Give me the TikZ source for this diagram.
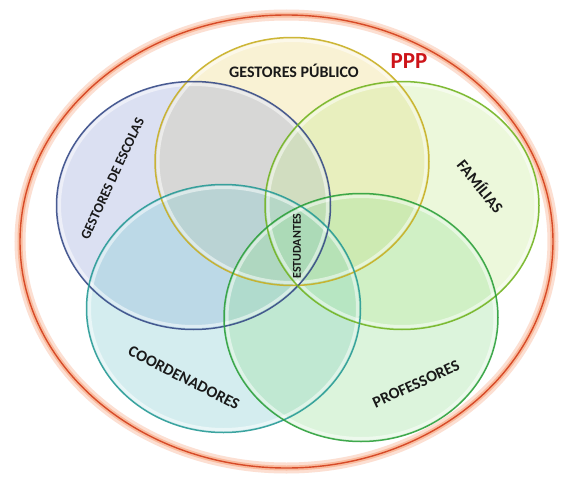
\documentclass[tikz,border=0pt]{standalone}
\usepackage{fontspec}
\setmainfont{Carlito}
\begin{document}
\definecolor{bluefill}{RGB}{150,165,218}
\definecolor{blueline}{RGB}{55,75,135}
\definecolor{yelfill}{RGB}{238,218,130}
\definecolor{yelline}{RGB}{200,175,35}
\definecolor{famfill}{RGB}{200,235,150}
\definecolor{famline}{RGB}{115,180,35}
\definecolor{teafill}{RGB}{130,205,210}
\definecolor{tealine}{RGB}{40,155,150}
\definecolor{profill}{RGB}{155,225,155}
\definecolor{proline}{RGB}{45,160,60}
\definecolor{ringcore}{RGB}{215,75,40}
\definecolor{ringglow}{RGB}{245,150,105}
\definecolor{pppred}{RGB}{205,20,25}
\definecolor{labeltext}{RGB}{25,25,25}
\begin{tikzpicture}[x=1pt,y=-1pt,
  disc/.style={fill=#1, fill opacity=0.34},
  glassrim/.style={draw=white, line width=3pt, draw opacity=0.5},
  ringline/.style={draw=#1, line width=1.5pt, draw opacity=0.9},
  lbl/.style={text=labeltext, font=\bfseries\fontsize{16}{16}\selectfont, inner sep=0pt},
  rx/.style={x radius=137, y radius=124},
  rxin/.style={x radius=134, y radius=121}]
\useasboundingbox (0,0) rectangle (563,479);
\fill[white] (0,0) rectangle (563,479);

% centres of the five sets and of the enclosing PPP ring
\coordinate (cpub) at (292,161.5);
\coordinate (cesc) at (193.5,205.5);
\coordinate (cfam) at (402,205.5);
\coordinate (ccoo) at (223.5,308.5);
\coordinate (cpro) at (361,317.5);
\coordinate (cppp) at (286.5,241.5);

% enclosing PPP ring with a soft glow
\draw[ringglow!30, line width=11pt] (cppp) ellipse [x radius=266.5, y radius=226.5];
\draw[ringglow!65, line width=5pt] (cppp) ellipse [x radius=266.5, y radius=226.5];
\draw[ringcore, line width=1.4pt] (cppp) ellipse [x radius=266.5, y radius=226.5];

% translucent set fills
\fill[disc=yelfill] (cpub) ellipse [rx];
\fill[disc=bluefill] (cesc) ellipse [rx];
\fill[disc=famfill] (cfam) ellipse [rx];
\fill[disc=teafill] (ccoo) ellipse [rx];
\fill[disc=profill] (cpro) ellipse [rx];

% glassy inner highlight
\foreach \c in {cpub,cesc,cfam,ccoo,cpro}
  \draw[glassrim] (\c) ellipse [rxin];

% outlines
\draw[ringline=yelline] (cpub) ellipse [rx];
\draw[ringline=blueline] (cesc) ellipse [rx];
\draw[ringline=famline] (cfam) ellipse [rx];
\draw[ringline=tealine] (ccoo) ellipse [rx];
\draw[ringline=proline] (cpro) ellipse [rx];

% labels
\node[lbl] (pub) at (294,71) {GESTORES PÚBLICO};
\node[text=pppred, font=\bfseries\fontsize{23}{23}\selectfont, inner sep=0pt] (ppp) at (409,61) {PPP};
\node[lbl, font=\bfseries\fontsize{14}{14}\selectfont, rotate=65] (esc) at (112.5,178.5) {GESTORES DE ESCOLAS};
\node[lbl, rotate=-51] (fam) at (481,186) {FAMÍLIAS};
\node[lbl, font=\bfseries\fontsize{12}{12}\selectfont, rotate=90] (est) at (297,246) {ESTUDANTES};
\node[lbl, rotate=-27] (coo) at (184,378) {COORDENADORES};
\node[lbl, rotate=24.5] (pro) at (416,384) {PROFESSORES};
\end{tikzpicture}
\end{document}
